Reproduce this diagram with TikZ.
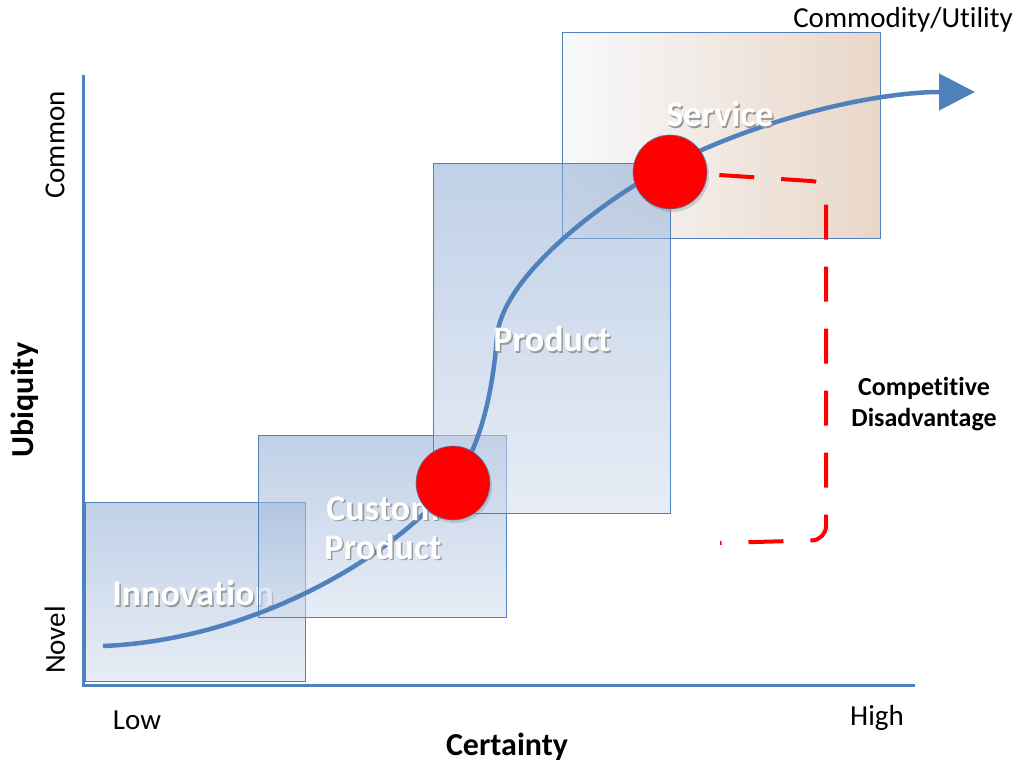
\documentclass[tikz,border=0pt]{standalone}
\usepackage{fontspec}
\setmainfont{Carlito}[Ligatures=CommonOff]
\usetikzlibrary{%
        arrows.meta,
        shadows
    }
\definecolor{axisblue}{RGB}{79, 129, 189}
\definecolor{boxtop}{RGB}{140, 170, 212}
\definecolor{boxbottom}{RGB}{212, 222, 238}
\definecolor{servleft}{RGB}{243, 245, 250}
\definecolor{servright}{RGB}{218, 188, 163}
\newcommand{\softshadow}[1]{%
    \makebox[0pt][l]{\hspace{1.5pt}\raisebox{-1.5pt}{\color{black!40}#1}}#1}
\tikzset{%
    stage/.style={%
        draw=axisblue, line width=0.8pt,
        top color=boxtop, bottom color=boxbottom, fill opacity=0.55
    },
    stagelabel/.style={%
        text=white, align=center,
        font=\fontsize{36}{39}\selectfont\bfseries
    },
    trend/.style={%
        draw=axisblue, line width=4.5pt,
        -{Triangle[length=36pt, width=36pt]}
    },
    milestone/.style={%
        circle, draw=axisblue, line width=0.6pt, fill=red,
        minimum size=74pt, inner sep=0pt,
        drop shadow={opacity=0.3, shadow xshift=2pt, shadow yshift=-3pt}
    },
    gapline/.style={%
        draw=red, line width=4pt, rounded corners=14pt,
        dash pattern=on 35pt off 27pt
    },
    axislabel/.style={font=\fontsize{29}{32}\selectfont},
    axistitle/.style={font=\fontsize{32}{36}\selectfont\bfseries}
}

\begin{document}
\begin{tikzpicture}[x=1pt, y=-1pt]

    \useasboundingbox (0, 0) rectangle (1017, 763);

    % Axes
    \draw[axisblue, line width=3pt] (83, 75) -- (83, 685) -- (915, 685);

    % Stages
    \draw[stage] (85, 502) rectangle (305, 681);
    \node[stagelabel] (innovation) at (193, 594) {\softshadow{Innovation}};
    \draw[stage] (258, 435) rectangle (506, 617);
    \draw[stage, left color=servleft, right color=servright, fill opacity=0.6]
        (562, 32) rectangle (880, 238);
    \draw[stage] (433, 163) rectangle (670, 513);

    % Evolution curve
    \draw[trend] (103, 646)
        .. controls (250, 640) and (390, 560) .. (453, 483)
        .. controls (478, 452) and (492, 400) .. (497, 337)
        .. controls (502, 275) and (608, 197) .. (668, 166)
        .. controls (768, 115) and (880, 92) .. (975, 92);

    \node[stagelabel] (custom) at (383, 529)
        {\softshadow{Custom}\\\softshadow{Product}};
    \node[stagelabel] (product) at (552, 340) {\softshadow{Product}};
    \node[stagelabel] (service) at (720, 115) {\softshadow{Service}};

    % Milestones
    \node[milestone] (customdot) at (453, 483) {};
    \node[milestone] (servicedot) at (670, 172) {};

    % Competitive gap
    \coordinate (gapturn) at (826, 182);
    \coordinate (gapbase) at (826, 540);
    \coordinate (gapend) at (720, 543);
    \draw[gapline] ([xshift=12pt, yshift=-3pt]servicedot.east)
        -- (gapturn) -- (gapbase) -- (gapend);
    \node[align=center, font=\fontsize{26}{31}\selectfont\bfseries]
        (disadvantage) at (924, 404) {Competitive\\Disadvantage};

    % Axis texts
    \node[axislabel] (commodity) at (903, 20) {Commodity/Utility};
    \node[axislabel] (low) at (137, 720) {Low};
    \node[axislabel] (high) at (877, 718) {High};
    \node[axistitle] (certainty) at (507, 747) {Certainty};
    \node[axislabel, rotate=90] (common) at (55, 145) {Common};
    \node[axislabel, rotate=90] (novel) at (55, 640) {Novel};
    \node[axistitle, rotate=90] (ubiquity) at (25, 400) {Ubiquity};

\end{tikzpicture}
\end{document}
